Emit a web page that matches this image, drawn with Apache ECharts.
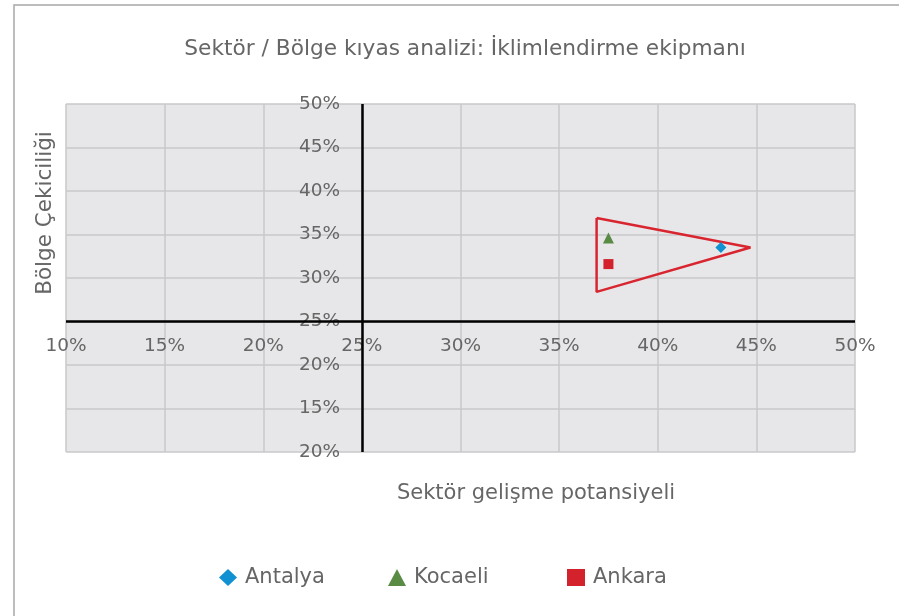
<!DOCTYPE html>
<html>
<head>
<meta charset="utf-8">
<script src="https://cdn.jsdelivr.net/npm/echarts@6/dist/echarts.min.js"></script>
<style>
html, body { margin: 0; padding: 0; background: #fff; }
#chart { width: 899px; height: 616px; }
</style>
</head>
<body>
<div id="chart"></div>
<script>
// veriler
var cities = ['Antalya', 'Kocaeli', 'Ankara'];
var sectorGrowth = [43.2, 37.5, 37.5];      // x, %
var regionAttract = [33.5, 34.6, 31.6];     // y, %
var outlineX = [36.9, 44.7, 36.9, 36.9];    // kırmızı üçgen
var outlineY = [36.9, 33.5, 28.4, 36.9];
var xTickLabels = ['10%', '15%', '20%', '25%', '30%', '35%', '40%', '45%', '50%'];
var yTickLabels = ['20%', '15%', '20%', '25%', '30%', '35%', '40%', '45%', '50%'];
var crossX = 25, crossY = 25;

var symbols = ['diamond', 'triangle', 'rect'];
var colors = ['#1190d2', '#5a8b45', '#d3222b'];
var font = '"DejaVu Sans", sans-serif';
var txt = '#666666';

var myChart = echarts.init(document.getElementById('chart'));

var series = cities.map(function (c, i) {
    return {
        name: c,
        type: 'scatter',
        symbol: symbols[i],
        symbolSize: symbols[i] == 'rect' ? 10 : 11,
        itemStyle: { color: colors[i], opacity: 1 },
        data: [[sectorGrowth[i], regionAttract[i]]],
        z: 5
    };
});

var outline = [];
for (var i = 0; i < outlineX.length; i++) outline.push([outlineX[i], outlineY[i]]);
series.push({
    name: 'outline',
    type: 'line',
    data: outline,
    symbol: 'none',
    lineStyle: { color: '#d9252f', width: 2.5 },
    z: 4,
    markLine: {
        silent: true,
        symbol: 'none',
        label: { show: false },
        lineStyle: { color: '#000', width: 2.5, type: 'solid' },
        data: [{ xAxis: crossX }, { yAxis: crossY }],
        z: 6
    }
});

var legendLeft = [214, 383, 562];
var legends = cities.map(function (c, i) {
    return {
        data: [{ name: c, icon: symbols[i] }],
        left: legendLeft[i],
        top: 562,
        itemWidth: 18,
        itemHeight: 17,
        textStyle: { fontFamily: font, fontSize: 21, color: txt, padding: [0, 0, 0, 3] }
    };
});

var option = {
    backgroundColor: '#fff',
    animation: false,
    title: [{
        text: 'Sektör / Bölge kıyas analizi: İklimlendirme ekipmanı',
        left: 460, top: 33, textAlign: 'center',
        textStyle: { fontFamily: font, fontSize: 21.7, fontWeight: 'normal', color: txt }
    }, {
        text: 'Sektör gelişme potansiyeli',
        left: 531, top: 478, textAlign: 'center',
        textStyle: { fontFamily: font, fontSize: 21, fontWeight: 'normal', color: txt }
    }],
    legend: legends,
    graphic: [{
        type: 'rect',
        shape: { x: 14, y: 5, width: 1000, height: 1000 },
        style: { fill: 'none', stroke: '#a8a8a8', lineWidth: 1.5 },
        silent: true
    }, {
        type: 'text',
        x: 45, y: 213,
        rotation: Math.PI / 2,
        style: {
            text: 'Bölge Çekiciliği',
            fontFamily: font, fontSize: 21.5, fill: txt,
            align: 'center', verticalAlign: 'middle'
        }
    }],
    grid: {
        left: 66, right: 44, top: 104, bottom: 164,
        show: true, backgroundColor: '#e7e7e9', borderWidth: 0
    },
    xAxis: {
        type: 'value', min: 10, max: 50, interval: 5,
        offset: -131,
        axisLine: { show: false },
        axisTick: { show: false },
        axisLabel: {
            margin: 16, fontFamily: font, fontSize: 18.5, color: txt,
            formatter: function (v) { return xTickLabels[Math.round((v - 10) / 5)]; }
        },
        splitLine: { show: true, lineStyle: { color: '#c9c9cb', width: 1.5 } }
    },
    yAxis: {
        type: 'value', min: 10, max: 50, interval: 5,
        offset: -293,
        axisLine: { show: false },
        axisTick: { show: false },
        axisLabel: {
            margin: 19, fontFamily: font, fontSize: 18.5, color: txt,
            formatter: function (v) { return yTickLabels[Math.round((v - 10) / 5)]; }
        },
        splitLine: { show: true, lineStyle: { color: '#c9c9cb', width: 1.5 } }
    },
    series: series
};

myChart.setOption(option);
</script>
</body>
</html>
